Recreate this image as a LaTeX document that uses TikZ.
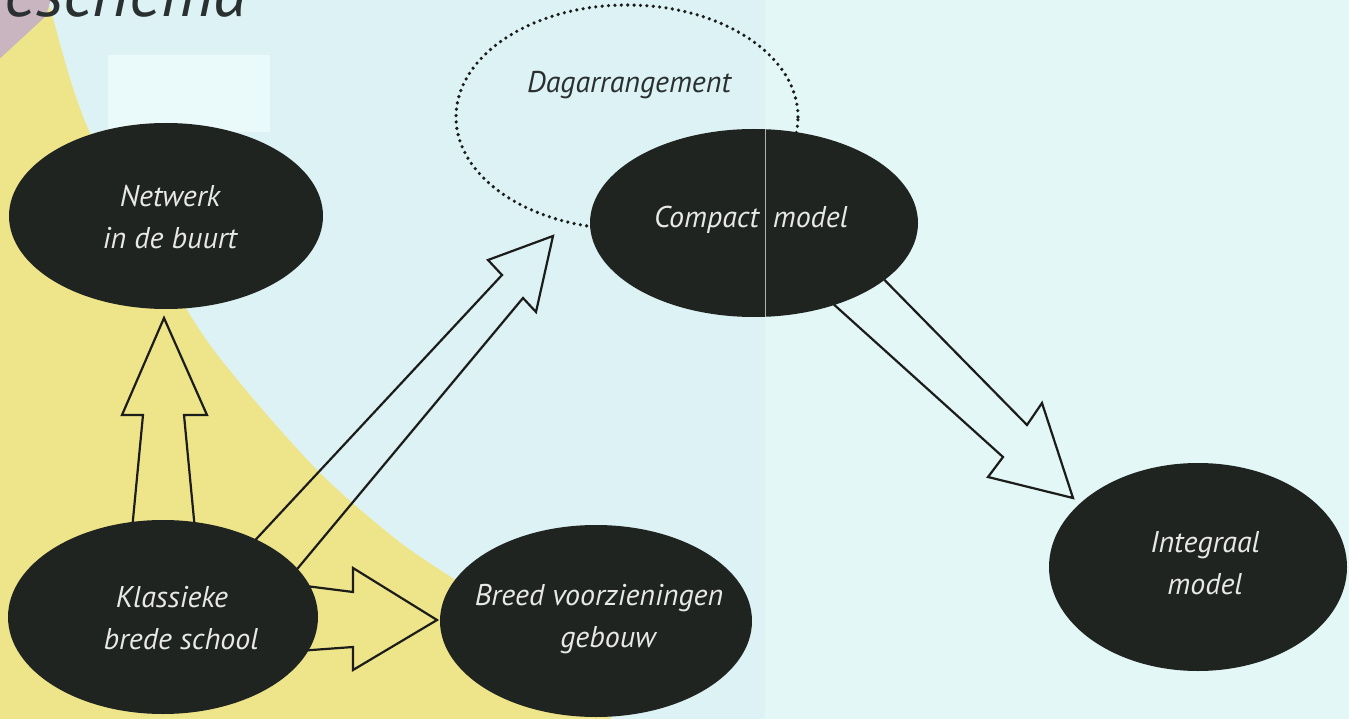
\documentclass[tikz,border=0pt]{standalone}
\usepackage{fontspec}
\setmainfont{PT Sans}
\usetikzlibrary{shapes.geometric}
\definecolor{bgcyan}{HTML}{DCF2F4}
\definecolor{bgcyanr}{HTML}{E3F7F7}
\definecolor{patch}{HTML}{EAF9F9}
\definecolor{yel}{HTML}{EEE58A}
\definecolor{mauve}{HTML}{C8B5BF}
\definecolor{blob}{HTML}{1F2421}
\definecolor{blobtext}{HTML}{E8E8E6}
\definecolor{ink}{HTML}{1C1C1A}
\definecolor{titleink}{HTML}{2A2F30}
\tikzset{
  blobnode/.style={ellipse, fill=blob, inner sep=0pt},
  blobtxt/.style={inner sep=0pt, text=blobtext, align=center,
     font=\itshape\fontsize{30}{42}\selectfont},
  hollow/.style={draw=ink, line width=2.2pt, line join=miter},
  dotring/.style={draw=ink, line width=3.6pt, line cap=round, dash pattern=on 0pt off 6.4pt},
  plaintext/.style={inner sep=0pt, text=titleink, font=\itshape\fontsize{30}{34}\selectfont}
}
\begin{document}
\begin{tikzpicture}[x=1pt,y=-1pt]
\useasboundingbox (0,0) rectangle (1349,719);
\clip (0,0) rectangle (1349,719);
% backgrounds
\fill[bgcyan] (0,0) rectangle (765,719);
\fill[bgcyanr] (765,0) rectangle (1349,719);
\fill[yel] (-5,-5) -- (48,-5) -- plot[smooth] coordinates {(48,-5) (52,15) (90,133) (187,310) (240,383) (320,473) (397,540) (460,583) (560,648) (615,725)} -- (-5,725) -- cycle;
\fill[mauve] (-5,-5) -- (52,-5) -- (46,16) -- (-5,63) -- cycle;
\fill[patch] (108,55) rectangle (270,132);
% partial title
\node[plaintext, anchor=base west, font=\itshape\fontsize{69}{74}\selectfont] (title) at (4,17) {eschema};
% dotted ring
\node[ellipse, dotring, minimum width=342pt, minimum height=224pt, inner sep=0pt] (ring) at (627,117) {};
\node[plaintext] (dag) at (629,85) {Dagarrangement};
% arrows (drawn before ellipses so that their ends are covered)
\draw[hollow] (132,530) -- (143,415) -- (122,415) -- (164,318) -- (207,415) -- (184,415) -- (195,530) -- cycle;
\draw[hollow] (233,564) -- (502,275) -- (488,260) -- (553,236) -- (536,312) -- (523,298) -- (278,592) -- cycle;
\draw[hollow] (298,585) -- (353,592) -- (353,568) -- (437,620) -- (353,670) -- (353,647) -- (298,651) -- cycle;
\draw[hollow] (860,255) -- (1027,425) -- (1042,403) -- (1073,498) -- (988,477) -- (1003,457) -- (820,292) -- cycle;
% ellipses
\node[blobnode, minimum width=314pt, minimum height=186pt] (netwerk) at (166,216) {};
\node[blobtxt] (netwerkt) at (170,217) {Netwerk\\in de buurt};
\node[blobnode, minimum width=310pt, minimum height=194pt] (klassiek) at (163,617) {};
\node[blobtxt] (klassiekt) at (172,618) {\hspace*{0pt}Klassieke\\\hspace*{18pt}brede school};
\node[blobnode, minimum width=312pt, minimum height=192pt] (breed) at (596,621) {};
\node[blobtxt] (breedt) at (599,619) {Breed voorzieningen\\\hspace*{18pt}gebouw};
\node[blobnode, minimum width=328pt, minimum height=188pt] (compact) at (754,223) {};
\node[blobtxt] (compactt) at (751,220) {Compact\hspace{14pt}model};
\node[blobnode, minimum width=298pt, minimum height=208pt] (integraal) at (1198,567) {};
\node[blobtxt] (integraalt) at (1205,563) {Integraal\\model};
% scan seam through the compact ellipse
\begin{scope}
\clip (754,223) ellipse [x radius=164pt, y radius=94pt];
\draw[color=gray!60, line width=0.8pt] (765,120) -- (765,330);
\end{scope}
\end{tikzpicture}
\end{document}
